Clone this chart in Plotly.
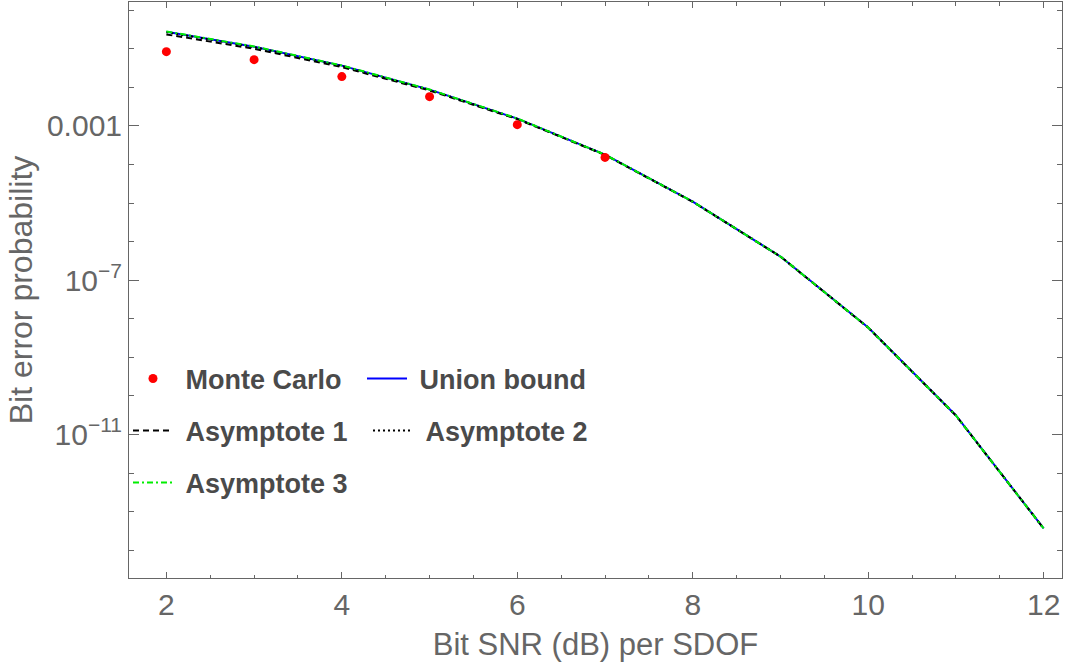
import plotly.graph_objects as go

# ---------------- data ----------------
snr_db = [2, 3, 4, 5, 6, 7, 8, 9, 10, 11, 12]
union_ber = [0.278, 0.1135, 0.0366, 0.00873, 0.00155, 1.80e-4, 1.09e-5, 4.1e-7, 5.93e-9, 3.11e-11, 3.67e-14]
asym1_ber = [0.236, 0.100, 0.0335, 0.0083, 0.00150, 1.77e-4, 1.08e-5, 4.1e-7, 5.9e-9, 3.1e-11, 3.67e-14]
asym2_ber = [0.270, 0.1110, 0.0360, 0.00865, 0.00154, 1.79e-4, 1.09e-5, 4.1e-7, 5.93e-9, 3.11e-11, 3.67e-14]
asym3_ber = [0.282, 0.1150, 0.0370, 0.00880, 0.00156, 1.80e-4, 1.09e-5, 4.1e-7, 5.93e-9, 3.11e-11, 3.67e-14]

mc_snr = [2, 3, 4, 5, 6, 7]
mc_ber = [0.0841, 0.0522, 0.0190, 0.00574, 0.00108, 1.53e-4]

x_ticks = [2, 4, 6, 8, 10, 12]
y_tickvals = [1e-3, 1e-7, 1e-11]
y_ticktext = ["0.001", "10<sup>\u22127</sup>", "10<sup>\u221211</sup>"]
y_minor = [10.0 ** (-k) for k in range(0, 15)]

FRAME = "#666666"
LEGTXT = "#4a4a4a"
NB = "\u00a0"

fig = go.Figure()

fig.add_trace(go.Scatter(x=snr_db, y=union_ber, mode="lines", name=NB + "Union bound",
                         line=dict(color="#0000ff", width=2), legend="legend2"))
fig.add_trace(go.Scatter(x=snr_db, y=asym1_ber, mode="lines", name=NB + "Asymptote 1",
                         line=dict(color="#000000", width=2, dash="6px,4px"), legend="legend3"))
fig.add_trace(go.Scatter(x=snr_db, y=asym2_ber, mode="lines", name=NB + "Asymptote 2",
                         line=dict(color="#000000", width=2, dash="2px,3px"), legend="legend4"))
fig.add_trace(go.Scatter(x=snr_db, y=asym3_ber, mode="lines", name=NB + "Asymptote 3",
                         line=dict(color="#00ee00", width=2, dash="6px,3px,2px,3px"), legend="legend5"))
fig.add_trace(go.Scatter(x=mc_snr, y=mc_ber, mode="markers", name=NB + "Monte Carlo",
                         marker=dict(color="#ff0000", size=9), legend="legend"))

W, H = 1067, 662
L, R, T, B = 129, 5, 2, 84
pw, ph = W - L - R, H - T - B


def px(xp):
    return (xp - L) / pw


def py(yp):
    return (H - B - yp) / ph


legfont = dict(family="Liberation Sans, Arial, sans-serif", size=27, color=LEGTXT, weight="bold")


def leg(xp, yp):
    return dict(x=px(xp), y=py(yp), xanchor="left", yanchor="middle", font=legfont,
                bgcolor="rgba(0,0,0,0)", borderwidth=0, itemwidth=40, visible=True)


fig.update_layout(
    width=W, height=H,
    margin=dict(l=L, r=R, t=T, b=B),
    paper_bgcolor="white", plot_bgcolor="white",
    showlegend=True,
    font=dict(family="Liberation Sans, Arial, sans-serif", size=30, color=FRAME),
    legend=leg(128, 379),
    legend2=leg(362, 379),
    legend3=leg(128, 431),
    legend4=leg(368, 431),
    legend5=leg(128, 483),
    xaxis=dict(
        range=[1.574, 12.209], showgrid=False, zeroline=False,
        showline=True, linecolor=FRAME, linewidth=1, mirror="ticks",
        ticks="inside", ticklen=6, tickcolor=FRAME, tickwidth=1,
        tickvals=x_ticks, tickfont=dict(size=30, color=FRAME),
        minor=dict(ticks="inside", ticklen=3.5, tickcolor=FRAME, tickmode="linear", tick0=0, dtick=0.5),
        title=dict(text="Bit SNR (dB) per SDOF", font=dict(size=31, color=FRAME), standoff=13),
    ),
    yaxis=dict(
        type="log", range=[-14.72, 0.213], showgrid=False, zeroline=False,
        showline=True, linecolor=FRAME, linewidth=1, mirror="ticks",
        ticks="inside", ticklen=10, tickcolor=FRAME, tickwidth=1,
        tickvals=y_tickvals, ticktext=y_ticktext, tickfont=dict(size=30, color=FRAME),
        minor=dict(ticks="inside", ticklen=5, tickcolor=FRAME, tickvals=y_minor),
        title=dict(text="Bit error probability", font=dict(size=32, color=FRAME), standoff=4),
    ),
)

fig.write_html("out.html", config={"displayModeBar": False},
               post_script="document.body.style.margin='0';")
